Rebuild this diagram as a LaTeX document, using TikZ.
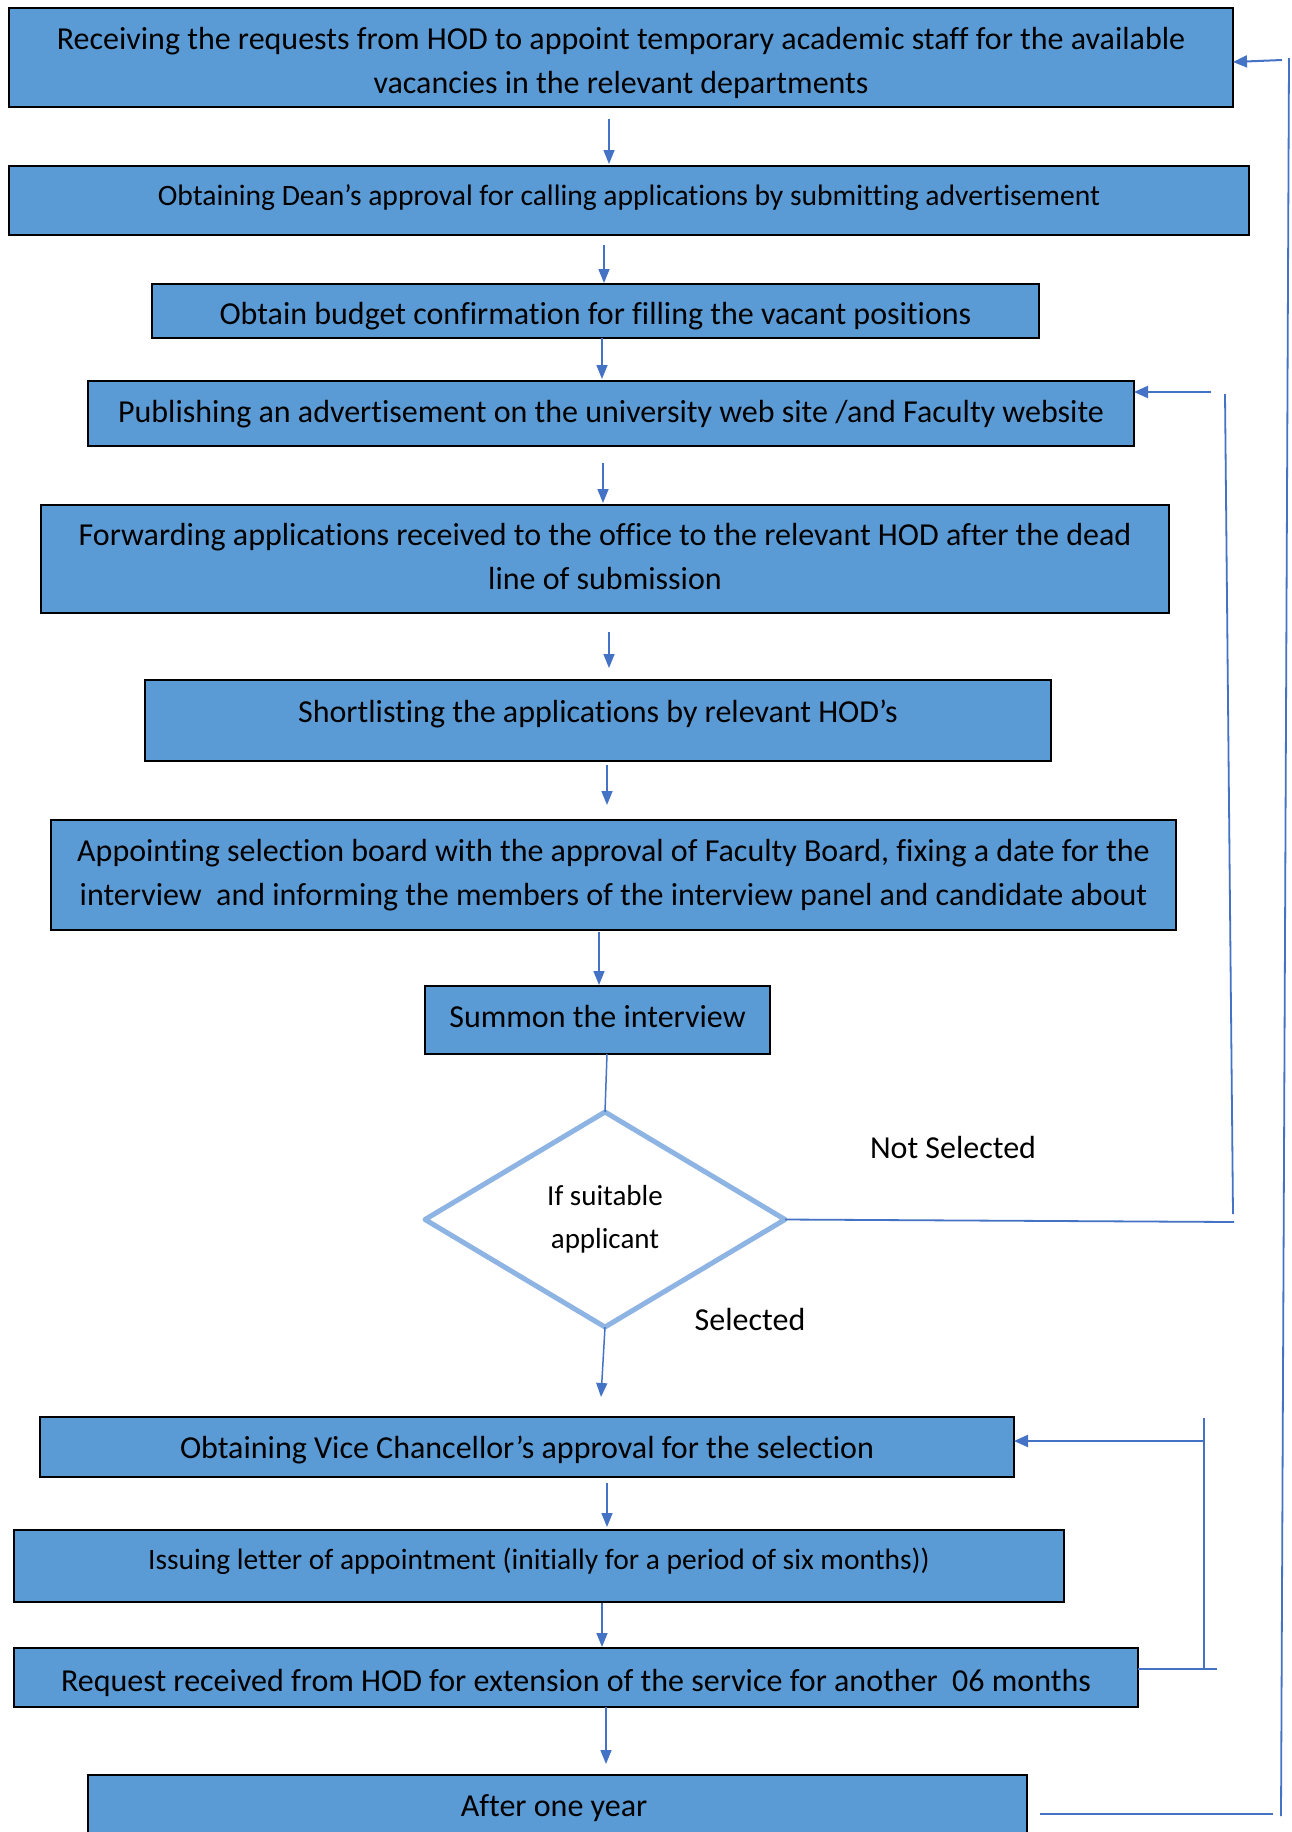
\documentclass[tikz,border=0pt]{standalone}
\usepackage{fontspec}
\setmainfont{Carlito}[Ligatures=CommonOff]
\usetikzlibrary{arrows.meta,calc,shapes.geometric}
\definecolor{boxblue}{HTML}{5B9BD5}
\definecolor{linkblue}{HTML}{4472C4}
\definecolor{diamondblue}{HTML}{8EB4E3}
% move a block of centred lines up or down without changing its reported size
\newcommand{\vshift}[2]{\raisebox{#1}[\height][\depth]{\begin{tabular}{@{}c@{}}#2\end{tabular}}}

\begin{document}
\begin{tikzpicture}[x=1pt,y=-1pt,
  stepbox/.style={draw=black,line width=2.2pt,fill=boxblue,inner sep=0pt,outer sep=0pt,
    align=center,font=\fontsize{32}{44}\selectfont},
  arr/.style={draw=linkblue,line width=1.5pt,-{Triangle[length=14pt,width=11pt]}},
  link/.style={draw=linkblue,line width=1.8pt},
  loop/.style={draw=linkblue,line width=2pt,-{Triangle[length=14pt,width=12pt]}},
  lbl/.style={font=\fontsize{32}{44}\selectfont,inner sep=0pt}]
\useasboundingbox (0,0) rectangle (1291,1832);
\clip (0,0) rectangle (1291,1832);
\fill[white] (0,0) rectangle (1291,1832);

% process steps
\node[stepbox,minimum width=1224pt,minimum height=99pt] (b1) at (621,57.5)
  {\vshift{-4.7pt}{Receiving the requests from HOD to appoint temporary academic staff for the available\\vacancies in the relevant departments}};
\node[stepbox,minimum width=1240pt,minimum height=69pt,font=\fontsize{29.6}{40}\selectfont] (b2) at (629,200.5)
  {\vshift{3.5pt}{Obtaining Dean’s approval for calling applications by submitting advertisement}};
\node[stepbox,minimum width=887pt,minimum height=54pt] (b3) at (595.5,311)
  {\vshift{-4.7pt}{Obtain budget confirmation for filling the vacant positions}};
\node[stepbox,minimum width=1046pt,minimum height=65pt] (b4) at (611,413.5)
  {\vshift{-0.5pt}{Publishing an advertisement on the university web site /and Faculty website}};
\node[stepbox,minimum width=1128pt,minimum height=108pt] (b5) at (605,559)
  {\vshift{0pt}{Forwarding applications received to the office to the relevant HOD after the dead\\line of submission}};
\node[stepbox,minimum width=906pt,minimum height=81pt] (b6) at (598,720.5)
  {\vshift{6.5pt}{Shortlisting the applications by relevant HOD’s}};
\node[stepbox,minimum width=1125pt,minimum height=110pt] (b7) at (613.5,875)
  {Appointing selection board with the approval of Faculty Board, fixing a date for the\\interview\ \ and informing the members of the interview panel and candidate about};
\node[stepbox,minimum width=345pt,minimum height=68pt] (b8) at (597.5,1020)
  {\vshift{1.2pt}{Summon the interview}};
\node[diamond,draw=diamondblue,line width=5pt,line join=round,fill=white,inner sep=0pt,outer sep=0pt,
  minimum width=360pt,minimum height=215pt,align=center,font=\fontsize{29}{43}\selectfont] (dia) at (605,1219.5)
  {If suitable\\applicant};
\node[stepbox,minimum width=974pt,minimum height=60pt] (b9) at (527,1447)
  {\vshift{-2.5pt}{Obtaining Vice Chancellor’s approval for the selection}};
\node[stepbox,minimum width=1050pt,minimum height=72pt,font=\fontsize{29.5}{40}\selectfont] (b10) at (539,1566)
  {\vshift{4.5pt}{Issuing letter of appointment (initially for a period of six months))}};
\node[stepbox,minimum width=1124pt,minimum height=59pt] (b11) at (576,1677.5)
  {\vshift{-4.7pt}{Request received from HOD for extension of the service for another\ \ 06 months}};
\node[stepbox,minimum width=939pt,minimum height=125pt] (b12) at (557.5,1837.5) {};
\node[lbl] (t12) at (554,1808) {After one year};

% branch labels
\node[lbl] (notsel) at (953,1147) {Not Selected};
\node[lbl] (sel) at (750,1319) {Selected};

% downward flow
\draw[arr] ([xshift=-12pt,yshift=-12pt]b1.south) -- ([xshift=-20pt,yshift=2pt]b2.north);
\draw[arr] ([xshift=-25pt,yshift=-10pt]b2.south) -- ([xshift=8.5pt,yshift=1pt]b3.north);
\draw[arr] ([xshift=6.5pt]b3.south) -- ([xshift=-9pt,yshift=2pt]b4.north);
\draw[arr] ([xshift=-8pt,yshift=-17pt]b4.south) -- ([xshift=-2pt,yshift=2pt]b5.north);
\draw[arr] ([xshift=4pt,yshift=-19pt]b5.south) -- ([xshift=11pt,yshift=12pt]b6.north);
\draw[arr] ([xshift=9pt,yshift=-4pt]b6.south) -- ([xshift=-6.5pt,yshift=15pt]b7.north);
\draw[arr] ([xshift=-14.5pt,yshift=-2pt]b7.south) -- ([xshift=1.5pt,yshift=1pt]b8.north);
\draw[linkblue,line width=1.5pt] ([xshift=9.5pt]b8.south) -- (dia.north);
\draw[arr] (dia.south) -- ([xshift=74pt,yshift=20pt]b9.north);
\draw[arr] ([xshift=80pt,yshift=-6pt]b9.south) -- ([xshift=68pt,yshift=3pt]b10.north);
\draw[arr] ([xshift=63pt,yshift=-1pt]b10.south) -- ([xshift=26pt,yshift=1pt]b11.north);
\draw[arr] ([xshift=30pt]b11.south) -- ([xshift=48.5pt,yshift=11pt]b12.north);

% return path when no applicant is selected
\coordinate (ns1) at (1234,1222);
\coordinate (ns2) at (1233,1214);
\coordinate (ns3) at (1225,394);
\coordinate (ns4) at (1211,392);
\draw[link] (dia.east) -- (ns1);
\draw[link] (ns2) -- (ns3);
\draw[loop] (ns4) -- ([yshift=21.5pt]b4.east);

% extension loop
\coordinate (ex1) at (1217,1669);
\coordinate (ex2) at (1204,1669);
\coordinate (ex3) at (1204,1418);
\coordinate (ex4) at (1204,1441);
\draw[link] ([yshift=8.5pt]b11.east) -- (ex1);
\draw[link] (ex2) -- (ex3);
\draw[loop] (ex4) -- ([yshift=6pt]b9.east);

% yearly loop back to the start
\coordinate (yr1) at (1273,1814);
\coordinate (yr2) at (1281,1816);
\coordinate (yr3) at (1289,58);
\coordinate (yr4) at (1282,60);
\draw[link,line width=2.2pt] ([xshift=13pt,yshift=23.5pt]b12.east) -- (yr1);
\draw[link] (yr2) -- (yr3);
\draw[loop] (yr4) -- ([yshift=-4.5pt]b1.east);
\end{tikzpicture}
\end{document}
